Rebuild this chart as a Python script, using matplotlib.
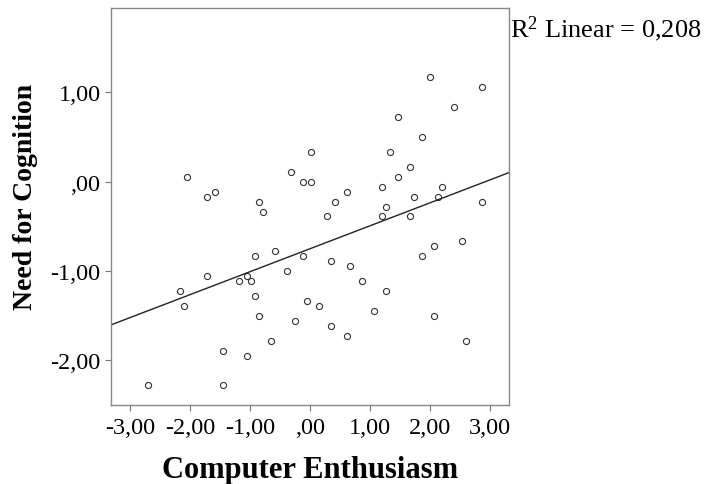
import numpy as np
import matplotlib
matplotlib.use("Agg")
import matplotlib.pyplot as plt

plt.rcParams['font.family'] = ['Liberation Serif', 'DejaVu Serif']
plt.rcParams['mathtext.fontset'] = 'custom'
plt.rcParams['mathtext.rm'] = 'Liberation Serif'
plt.rcParams['mathtext.it'] = 'Liberation Serif:italic'
plt.rcParams['mathtext.bf'] = 'Liberation Serif:bold'

# Data (Computer Enthusiasm, Need for Cognition)
computer_enthusiasm = [
    -2.045, -1.712, -1.578, -0.845, -0.778, -0.317, -0.122, 0.017, 0.017, 2.005,
    2.867, 2.400, 1.472, 1.872, 1.338, 1.672, 1.472, 0.612, 1.205, 0.412,
    1.738, 2.205, 2.133, 2.867, 1.272, 0.278, 1.205, 1.672, 2.533, 2.067,
    1.872, -0.117, 0.345, 0.672, 0.872, 1.272, -0.050, 0.150, 1.072, 2.067,
    0.345, 0.612, 2.600, -0.583, -0.912, -0.383, -1.045, -1.178, -0.978, -1.712,
    -2.172, -2.105, -0.912, -0.845, -0.250, -0.650, -1.445, -1.045, -2.700, -1.445,
]
need_for_cognition = [
    0.054, -0.170, -0.114, -0.226, -0.337, 0.109, -0.002, -0.002, 0.333, 1.164,
    1.053, 0.829, 0.721, 0.501, 0.333, 0.165, 0.054, -0.114, -0.058, -0.226,
    -0.170, -0.058, -0.170, -0.226, -0.282, -0.389, -0.389, -0.389, -0.668, -0.724,
    -0.836, -0.836, -0.892, -0.947, -1.112, -1.223, -1.335, -1.391, -1.447, -1.503,
    -1.615, -1.726, -1.779, -0.780, -0.836, -1.003, -1.059, -1.112, -1.112, -1.059,
    -1.223, -1.391, -1.279, -1.503, -1.559, -1.779, -1.891, -1.946, -2.277, -2.277,
]
x_ticks = [-3, -2, -1, 0, 1, 2, 3]
x_tick_labels = ['-3,00', '-2,00', '-1,00', ',00', '1,00', '2,00', '3,00']
y_ticks = [-2, -1, 0, 1]
y_tick_labels = ['-2,00', '-1,00', ',00', '1,00']
r2_label = "R$^{2}$ Linear = 0,208"

W, H = 704, 485
fig = plt.figure(figsize=(W / 100, H / 100), dpi=100)
ax = fig.add_axes([111 / W, 1 - 405.7 / H, 398 / W, 396.7 / H])

x = np.array(computer_enthusiasm)
y = np.array(need_for_cognition)

ax.plot(x, y, linestyle='none', marker='o', markersize=4.4,
        markerfacecolor='white', markeredgecolor='#333333', markeredgewidth=0.8)

xlim = (-3.317, 3.317)
ax.set_xlim(*xlim)
ax.set_ylim(-2.494, 1.939)

slope, intercept = np.polyfit(x, y, 1)
xs = np.array(xlim)
ax.plot(xs, slope * xs + intercept, color='#222222', linewidth=1.0)

ax.set_xticks(x_ticks)
ax.set_xticklabels(x_tick_labels)
ax.set_yticks(y_ticks)
ax.set_yticklabels(y_tick_labels)
ax.tick_params(direction='out', length=4, width=0.8, color='#777777',
               labelsize=17.5, labelcolor='black')
ax.tick_params(axis='x', pad=4.5)
ax.tick_params(axis='y', pad=3.5)
for s in ax.spines.values():
    s.set_color('#888888')
    s.set_linewidth(1.0)

fig.text(310 / W, 1 - 478 / H, 'Computer Enthusiasm', fontsize=22,
         fontweight='bold', ha='center', va='baseline')
fig.text(25 / W, 1 - 196.5 / H, 'Need for Cognition', fontsize=20,
         fontweight='bold', ha='center', va='center', rotation=90)
fig.text(510 / W, 1 - 37.5 / H, r2_label, fontsize=19,
         ha='left', va='baseline')

fig.savefig('out.png', dpi=100)
